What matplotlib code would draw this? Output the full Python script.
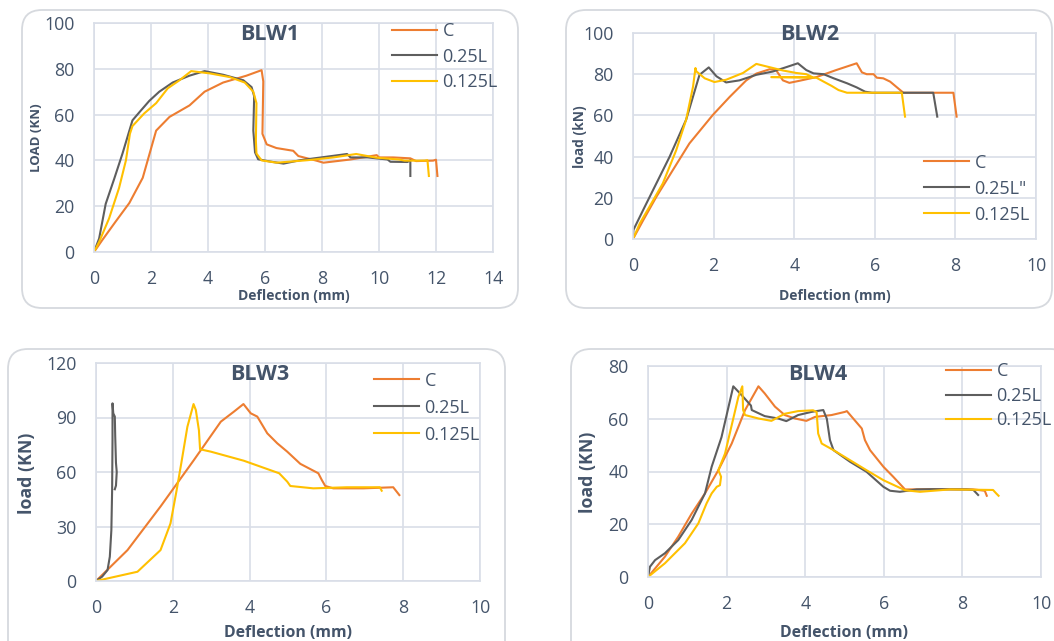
import matplotlib
matplotlib.use("Agg")
import matplotlib.pyplot as plt
from matplotlib.patches import FancyBboxPatch
from matplotlib.transforms import IdentityTransform

plt.rcParams['font.family'] = ['Open Sans', 'DejaVu Sans']

W, H = 1054, 641
TEXT = '#44546A'
GRID = '#D9DEE8'
COLORS = {'C': '#ED7D31', '0.25L': '#5E5E5E', '0.125L': '#FFC000'}

# ---------------- BLW1 ----------------
blw1_c_x = [0, 0.29, 0.76, 1.24, 1.71, 2.18, 2.65, 3.35, 3.88, 4.53, 5.35, 5.88, 5.94, 5.91, 6.06,
            6.4, 6.99, 7.17, 7.8, 8.05, 9.0, 9.92, 10.0, 10.5, 11.1, 11.3, 11.9, 12.0, 12.05]
blw1_c_y = [0, 5.2, 13.3, 21.4, 32.4, 53, 59, 64, 70, 74, 77, 79.4, 74.5, 51.6, 47,
            45.4, 44.2, 41.9, 39.9, 39, 40.4, 42.3, 41.3, 41.3, 40.9, 39.7, 39.9, 40.3, 33.2]
blw1_g_x = [0, 0.18, 0.41, 0.71, 1.0, 1.35, 1.59, 1.94, 2.29, 2.76, 3.35, 3.88, 4.53, 5.24, 5.53,
            5.62, 5.59, 5.65, 5.76, 6.18, 6.65, 7.24, 8.88, 9.0, 9.6, 10.3, 10.4, 11.0, 11.1, 11.1]
blw1_g_y = [0, 5.9, 21, 32, 43, 57.5, 61, 66, 70, 74, 77, 79, 77.4, 75, 72,
            68, 53, 43.5, 40.5, 39.5, 38.6, 40.1, 42.8, 41.3, 41.3, 40.4, 39.4, 39.3, 40.1, 33.2]
blw1_y_x = [0, 0.18, 0.53, 0.88, 1.12, 1.26, 1.35, 1.76, 2.18, 2.59, 3.0, 3.41, 4.06, 4.76, 5.29,
            5.59, 5.7, 5.68, 5.7, 5.88, 6.41, 7.5, 8.4, 9.2, 9.9, 10.7, 10.9, 11.6, 11.7, 11.75]
blw1_y_y = [0, 4.4, 14.7, 28, 40, 51.6, 55, 60.5, 65, 71.5, 75, 79, 78, 76.4, 74,
            70, 65, 48.7, 43, 40, 39, 40.1, 41.3, 42.8, 41.2, 40.4, 39.9, 39.9, 40.1, 33.2]

# ---------------- BLW2 ----------------
blw2_c_x = [0, 0.25, 0.58, 0.99, 1.4, 1.98, 2.4, 2.81, 3.06, 3.39, 3.55, 3.72, 3.88, 4.13, 4.55,
            5.04, 5.55, 5.68, 5.8, 5.97, 6.05, 6.21, 6.38, 6.63, 6.71, 7.45, 7.95, 8.03]
blw2_c_y = [0, 9, 20.5, 33.5, 46.4, 60.2, 69, 77, 80.3, 82.4, 82, 77, 75.8, 76.8, 78.6,
            82, 85.3, 80.9, 80, 80, 78.3, 78, 76.4, 72.3, 71, 71, 71, 59.4]
blw2_g_x = [0, 0.01, 0.25, 0.58, 0.91, 1.32, 1.65, 1.88, 2.07, 2.31, 2.64, 3.06, 3.47, 3.8, 4.09,
            4.3, 4.48, 4.73, 4.98, 5.31, 5.55, 5.76, 5.93, 6.63, 7.45, 7.55]
blw2_g_y = [0, 4.4, 14, 27, 40, 58, 79.7, 83.3, 79, 76, 77, 79.7, 81.3, 83.4, 85.3,
            82, 80.4, 80, 78, 75.6, 73.6, 71.5, 71, 71, 71, 59.4]
blw2_y_x = [0, 0.17, 0.41, 0.74, 1.07, 1.32, 1.49, 1.55, 1.57, 1.78, 2.02, 2.31, 2.73, 3.06, 3.39,
            3.72, 4.05, 4.3, 4.45, 3.43, 4.55, 4.73, 4.93, 5.1, 5.31, 5.8, 6.63, 6.67, 6.75]
blw2_y_y = [0, 7.6, 15.7, 27, 43, 58, 74, 83, 81.4, 78, 76.2, 77.3, 80.6, 85, 83.4,
            81.8, 80.6, 80, 78.6, 78.6, 78.3, 76.4, 74.3, 72.3, 71, 71, 71, 71, 59.4]

# ---------------- BLW3 ----------------
blw3_c_x = [0, 0.82, 1.68, 2.55, 3.25, 3.59, 3.84, 4.03, 4.2, 4.46, 4.72, 4.98, 5.32, 5.79, 5.88,
            5.97, 6.18, 6.96, 7.74, 7.9]
blw3_c_y = [0, 17, 41, 66.6, 87.7, 93.2, 97.4, 92.3, 90.5, 81.3, 75.8, 71.2, 64.5, 59.3, 55.6,
            52.3, 51, 51, 51.6, 47.3]
blw3_g_x = [0, 0.16, 0.3, 0.36, 0.4, 0.42, 0.43, 0.43, 0.45, 0.49, 0.5, 0.52, 0.54, 0.52, 0.49]
blw3_g_y = [0, 2.4, 6, 13.4, 28, 50, 77.6, 97.8, 92.3, 90.5, 80, 65, 60, 52.5, 50.5]
blw3_y_x = [0, 1.08, 1.68, 1.94, 2.1, 2.22, 2.38, 2.54, 2.6, 2.68, 2.71, 2.99, 3.85, 4.77, 4.98,
            5.06, 5.66, 6.53, 7.39, 7.44]
blw3_y_y = [0, 5.1, 17, 31.7, 50, 64.7, 84.9, 97.4, 94.1, 83, 72.5, 71.2, 66.2, 59.3, 54.7,
            52.3, 51, 51.6, 51.6, 49.7]

# ---------------- BLW4 ----------------
blw4_c_x = [0, 0.43, 0.77, 1.11, 1.45, 1.79, 2.13, 2.47, 2.81, 2.97, 3.23, 3.48, 3.74, 4.03, 4.25,
            4.67, 5.01, 5.06, 5.44, 5.52, 5.65, 5.99, 6.24, 6.54, 7.26, 8.28, 8.57, 8.62]
blw4_c_y = [0, 7.7, 15.3, 24, 31.7, 40.5, 50.6, 63.3, 72.3, 69.6, 64.6, 61.4, 60.1, 59.2, 60.7,
            61.4, 62.6, 62.9, 56.3, 51.9, 48.1, 41.8, 38, 33.2, 33.3, 33.2, 32.7, 30.8]
blw4_g_x = [0, 0.05, 0.18, 0.43, 0.77, 1.11, 1.45, 1.62, 1.87, 2.17, 2.38, 2.62, 2.64, 2.97, 3.31,
            3.52, 3.82, 4.16, 4.46, 4.55, 4.63, 4.72, 5.14, 5.56, 5.99, 6.16, 6.41, 6.84, 7.26,
            8.11, 8.28, 8.4]
blw4_g_y = [0, 3.9, 6.4, 9, 14, 21.6, 31.7, 41.8, 53, 72.3, 69, 65, 63.3, 61, 60.1,
            59.1, 61.4, 62.6, 63.3, 60, 51.9, 48.1, 43.7, 39.9, 34.2, 32.7, 32.3, 33.2, 33.3,
            33.2, 33, 31.1]
blw4_y_x = [0, 0.43, 0.94, 1.28, 1.49, 1.62, 1.75, 1.83, 1.86, 1.79, 1.96, 2.14, 2.3, 2.4, 2.42,
            2.47, 2.81, 3.14, 3.48, 3.82, 4.2, 4.29, 4.33, 4.42, 4.72, 5.56, 5.99, 6.54, 6.92,
            7.68, 8.78, 8.86, 8.92]
blw4_y_y = [0, 5.2, 12.8, 20.3, 27.9, 31.7, 34.2, 34.8, 38, 40.5, 46.8, 58.2, 68.3, 72.3, 63.3,
            61.4, 60.1, 59.2, 61.9, 62.9, 63.2, 62.6, 54.4, 50.6, 48.1, 40.5, 36.7, 32.9, 32.3,
            33.2, 33, 31.7, 30.8]

fig = plt.figure(figsize=(W / 100, H / 100), dpi=100)
fig.patch.set_facecolor('white')


def px_rect(left, top, right, bottom):
    """Axes rectangle in figure fractions from pixel edges (top-down y)."""
    return [left / W, (H - bottom) / H, (right - left) / W, (bottom - top) / H]


def frame(left, top, right, bottom):
    box = FancyBboxPatch((left, H - bottom), right - left, bottom - top,
                         boxstyle="round,pad=0,rounding_size=20",
                         transform=IdentityTransform(), facecolor='white',
                         edgecolor='#D6D9DE', linewidth=1.3, zorder=-10)
    fig.add_artist(box)


def text_px(x, y, s, **kw):
    fig.text(x / W, (H - y) / H, s, ha='center', va='center', color=TEXT, **kw)


panels = [
    dict(name='BLW1', frame=(22, 10, 518, 308), rect=(94, 23, 493, 252),
         xlim=14, ylim=100, ystep=20,
         series=[('C', blw1_c_x, blw1_c_y), ('0.25L', blw1_g_x, blw1_g_y),
                 ('0.125L', blw1_y_x, blw1_y_y)],
         title=(270, 34), xlabel=(294, 296, 10), ylabel=('LOAD (KN)', 37, 138, 9.5),
         legend=(392, 22.5), lfs=13, lspace=0.4),
    dict(name='BLW2', frame=(566, 10, 1052, 308), rect=(633, 33, 1036, 239),
         xlim=10, ylim=100, ystep=20,
         series=[('C', blw2_c_x, blw2_c_y), ('0.25L"', blw2_g_x, blw2_g_y),
                 ('0.125L', blw2_y_x, blw2_y_y)],
         title=(810, 34), xlabel=(835, 296, 10), ylabel=('load (kN)', 580, 137, 9.9),
         legend=(924, 153.5), lfs=13, lspace=0.45),
    dict(name='BLW3', frame=(8, 349, 505, 670), rect=(96, 363, 480, 581),
         xlim=10, ylim=120, ystep=30,
         series=[('C', blw3_c_x, blw3_c_y), ('0.25L', blw3_g_x, blw3_g_y),
                 ('0.125L', blw3_y_x, blw3_y_y)],
         title=(260, 374), xlabel=(288, 633, 11.4), ylabel=('load (KN)', 27, 473, 12.8),
         legend=(374, 371.5), lfs=13, lspace=0.5),
    dict(name='BLW4', frame=(571, 349, 1070, 670), rect=(648, 366, 1041, 577),
         xlim=10, ylim=80, ystep=20,
         series=[('C', blw4_c_x, blw4_c_y), ('0.25L', blw4_g_x, blw4_g_y),
                 ('0.125L', blw4_y_x, blw4_y_y)],
         title=(818, 374), xlabel=(844, 633, 11.4), ylabel=('load (KN)', 588, 472, 12.8),
         legend=(946, 362.5), lfs=13, lspace=0.35),
]

for p in panels:
    frame(*p['frame'])
    ax = fig.add_axes(px_rect(*p['rect']))
    ax.set_facecolor('none')
    keys = ['C', '0.25L', '0.125L']
    for key, (label, xs, ys) in zip(keys, p['series']):
        ax.plot(xs, ys, color=COLORS[key], linewidth=1.5, label=label,
                solid_joinstyle='round')
    ax.set_xlim(0, p['xlim'])
    ax.set_ylim(0, p['ylim'])
    ax.set_xticks(range(0, p['xlim'] + 1, 2))
    ax.set_yticks(range(0, p['ylim'] + 1, p['ystep']))
    ax.grid(True, color=GRID, linewidth=1.2)
    ax.set_axisbelow(True)
    for s in ax.spines.values():
        s.set_color(GRID)
        s.set_linewidth(1.2)
    ax.tick_params(length=0, labelsize=12.8, labelcolor=TEXT)
    ax.tick_params(axis='x', pad=13)
    ax.tick_params(axis='y', pad=14)

    text_px(*p['title'], p['name'], fontsize=15.5, fontweight='bold')
    xl = p['xlabel']
    text_px(xl[0], xl[1], 'Deflection (mm)', fontsize=xl[2], fontweight='bold')
    yl = p['ylabel']
    text_px(yl[1], yl[2], yl[0], fontsize=yl[3], fontweight='bold', rotation=90)

    lx, ly = p['legend']
    leg = ax.legend(loc='upper left', bbox_to_anchor=(lx / W, (H - ly) / H),
                    bbox_transform=fig.transFigure, frameon=False,
                    fontsize=p['lfs'], handlelength=2.5, handletextpad=0.3,
                    labelspacing=p['lspace'], borderpad=0, borderaxespad=0)
    for t in leg.get_texts():
        t.set_color(TEXT)
    leg.set_clip_on(False)

fig.savefig('out.png', dpi=100, facecolor='white')
